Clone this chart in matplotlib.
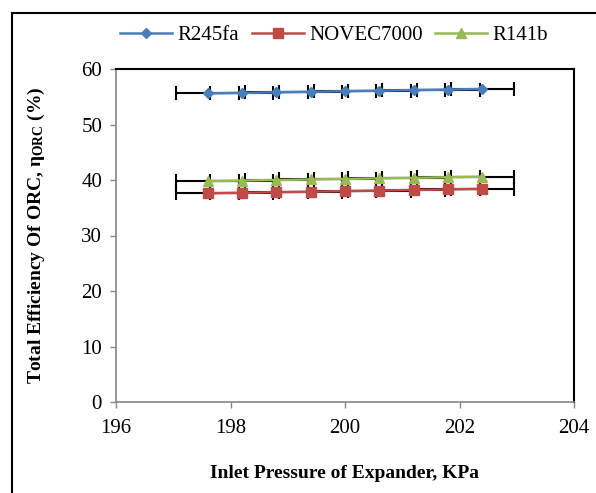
import matplotlib
matplotlib.use('Agg')
import matplotlib.pyplot as plt
from matplotlib.patches import Rectangle

# data
pressure = [197.6, 198.2, 198.8, 199.4, 200.0, 200.6, 201.2, 201.8, 202.4]
eff_r245fa = [55.6, 55.7, 55.8, 55.9, 56.0, 56.1, 56.2, 56.3, 56.4]
eff_novec = [37.6, 37.7, 37.8, 37.9, 38.0, 38.1, 38.2, 38.3, 38.4]
eff_r141b = [39.8, 39.9, 40.0, 40.1, 40.2, 40.3, 40.4, 40.5, 40.6]
xerr = 0.55

plt.rcParams['font.family'] = 'Liberation Serif'
plt.rcParams['mathtext.fontset'] = 'custom'
plt.rcParams['mathtext.rm'] = 'Liberation Serif:bold'
plt.rcParams['mathtext.it'] = 'Liberation Serif:bold'
plt.rcParams['mathtext.bf'] = 'Liberation Serif:bold'

fig = plt.figure(figsize=(5.96, 4.93), dpi=100)
ax = fig.add_axes([116 / 596, 1 - 402 / 493, (574 - 116) / 596, (402 - 69) / 493])

series = [
    ('R245fa', eff_r245fa, '#4A7EBB', 'D', 5.5),
    ('NOVEC7000', eff_novec, '#BE4B48', 's', 6.5),
    ('R141b', eff_r141b, '#98B954', '^', 7),
]

for name, y, col, mk, ms in series:
    ax.errorbar(pressure, y, xerr=xerr, fmt='none', ecolor='black',
                elinewidth=1.5, capsize=5, capthick=1.5, zorder=2)
    ax.plot(pressure, y, color=col, marker=mk, markersize=ms, lw=1.8,
            label=name, zorder=3)

ax.set_xlim(196, 204)
ax.set_ylim(0, 60)
ax.set_xticks([196, 198, 200, 202, 204])
ax.set_yticks(range(0, 61, 10))
ax.tick_params(labelsize=15, direction='out', length=4, color='#868686', width=1)
ax.tick_params(axis='x', pad=8)
ax.tick_params(axis='y', pad=6)
for s in ['left', 'bottom']:
    ax.spines[s].set_color('#868686')
    ax.spines[s].set_linewidth(1.2)
for s in ['top', 'right']:
    ax.spines[s].set_color('black')
    ax.spines[s].set_linewidth(1.5)

ax.set_xlabel('Inlet Pressure of Expander, KPa', fontsize=14, fontweight='bold', labelpad=20)
ax.set_ylabel(r'Total Efficiency Of ORC, $\eta_{\mathregular{ORC}}$ (%)', fontsize=14,
              fontweight='bold', labelpad=25)

ax.legend(loc='center', bbox_to_anchor=(334 / 596, 1 - 35 / 493), bbox_transform=fig.transFigure,
          ncol=3, frameon=False, fontsize=15, handlelength=2.5, columnspacing=0.6,
          handletextpad=0.25)

# chart area border
fig.patches.append(Rectangle((12 / 596, -0.05), 1.1, 1 - 13 / 493 + 0.05,
                             transform=fig.transFigure, fill=False,
                             edgecolor='black', lw=1.5))

fig.savefig('out.png', dpi=100)
